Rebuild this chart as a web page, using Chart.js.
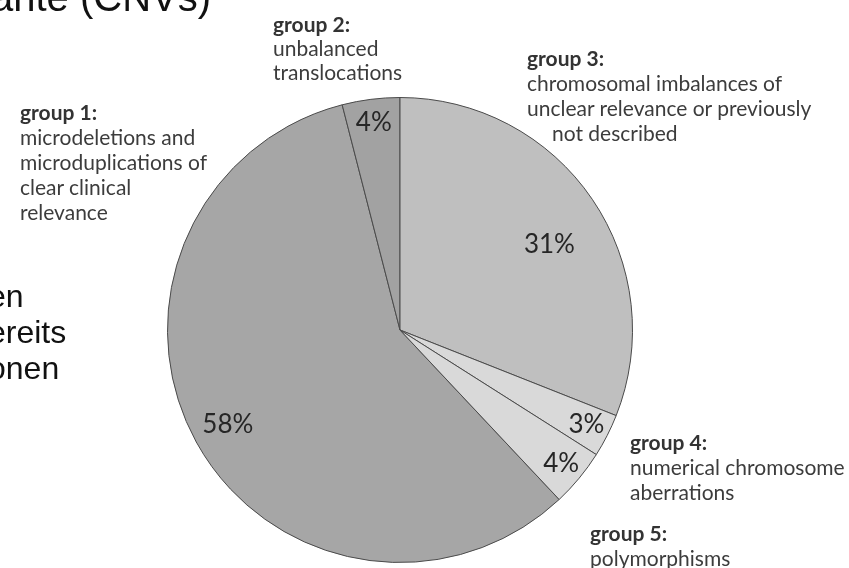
<!DOCTYPE html>
<html>
<head>
<meta charset="utf-8">
<script src="https://cdn.jsdelivr.net/npm/chart.js@4/dist/chart.umd.min.js"></script>
<style>
    html, body { margin: 0; padding: 0; background: #fff; }
    #wrap { position: relative; width: 849px; height: 568px; overflow: hidden; }
    #pie { position: absolute; left: 0; top: 0; }
    .slide { position: absolute; font-family: 'Liberation Sans', Arial, sans-serif; color: #111; white-space: nowrap; }
    .grp { position: absolute; font-family: Lato, 'Open Sans', sans-serif; font-size: 21px; line-height: 25px; color: #3c3c3c; white-space: nowrap; }
    .grp b { color: #333; }
    .indent { padding-left: 25px; }
</style>
</head>
<body>
<div id="wrap">
    <canvas id="pie" width="849" height="568"></canvas>

    <!-- leftovers of the slide behind the chart -->
    <div class="slide" style="left:-9px; top:-25px; font-size:40px;">ante (CNVs)</div>
    <div class="slide" style="left:-12px; top:278px; font-size:32px; line-height:36px;">en<br>ereits<br>onen</div>

    <div class="grp" id="g1" style="left:20px; top:99px;"></div>
    <div class="grp" id="g2" style="left:273px; top:12px; line-height:24px;"></div>
    <div class="grp" id="g3" style="left:527px; top:45px;"></div>
    <div class="grp" id="g4" style="left:630px; top:429px;"></div>
    <div class="grp" id="g5" style="left:590px; top:520px;"></div>
</div>
<script>
// Share of CNV groups (%)
const groupNames = ['group 1:', 'group 2:', 'group 3:', 'group 4:', 'group 5:'];
const groupDescriptions = [
    ['microdeletions and', 'microduplications of', 'clear clinical', 'relevance'],
    ['unbalanced', 'translocations'],
    ['chromosomal imbalances of', 'unclear relevance or previously', 'not described'],
    ['numerical chromosome', 'aberrations'],
    ['polymorphisms']
];
const groupShares = [58, 4, 31, 3, 4];
const sliceColors = ['#a6a6a6', '#a2a2a2', '#bfbfbf', '#d9d9d9', '#d9d9d9'];

// text labels beside the pie
groupNames.forEach((name, i) => {
    const el = document.getElementById('g' + (i + 1));
    const lines = groupDescriptions[i].map(t =>
        t === 'not described' ? '<span class="indent">' + t + '</span>' : t);
    el.innerHTML = '<b>' + name + '</b><br>' + lines.join('<br>');
});

// draws the "58%" etc. inside each slice
const percentLabels = {
    id: 'percentLabels',
    afterDatasetsDraw(chart, args, opts) {
        const ctx = chart.ctx;
        const meta = chart.getDatasetMeta(0);
        const values = chart.data.datasets[0].data;
        ctx.save();
        ctx.font = opts.font;
        ctx.fillStyle = opts.color;
        ctx.textAlign = 'center';
        ctx.textBaseline = 'middle';
        meta.data.forEach((arc, i) => {
            const p = arc.getProps(['x', 'y', 'startAngle', 'endAngle', 'outerRadius'], true);
            // where along the slice the label sits (0.5 = middle)
            const a = p.startAngle + (p.endAngle - p.startAngle) * opts.along[i];
            const r = p.outerRadius * opts.radius[i];
            ctx.fillText(values[i] + '%', p.x + Math.cos(a) * r, p.y + Math.sin(a) * r);
        });
        ctx.restore();
    }
};

new Chart(document.getElementById('pie'), {
    type: 'pie',
    data: {
        labels: groupNames,
        datasets: [{
            data: groupShares,
            backgroundColor: sliceColors,
            borderColor: '#4a4a4a',
            borderWidth: 1
        }]
    },
    options: {
        responsive: false,
        animation: false,
        rotation: 136.8,
        layout: { padding: { top: 97, bottom: 5, left: 167, right: 216 } },
        plugins: {
            legend: { display: false },
            tooltip: { enabled: false },
            percentLabels: {
                font: '26px Lato',
                color: '#262626',
                radius: [0.845, 0.9, 0.74, 0.9, 0.9],
                along: [0.5, 0.5, 0.54, 0.5, 0.5]
            }
        }
    },
    plugins: [percentLabels]
});
</script>
</body>
</html>
